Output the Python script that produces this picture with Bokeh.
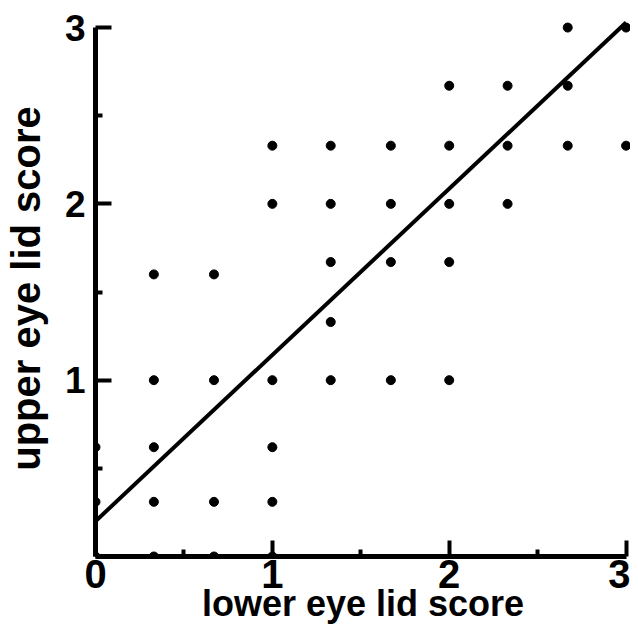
from bokeh.plotting import figure
from bokeh.models import Range1d, FixedTicker
from bokeh.embed import file_html
from bokeh.resources import INLINE

# data
lower = [2.67, 3.0,
         2.0, 2.33, 2.67,
         1.0, 1.33, 1.67, 2.0, 2.33, 2.67, 3.0,
         1.0, 1.33, 1.67, 2.0, 2.33,
         1.33, 1.67, 2.0,
         0.33, 0.67,
         1.33,
         0.33, 0.67, 1.0, 1.33, 1.67, 2.0,
         0.0, 0.33, 1.0,
         0.0, 0.33, 0.67, 1.0,
         0.0, 0.33, 0.67, 1.0]
upper = [3.0, 3.0,
         2.67, 2.67, 2.67,
         2.33, 2.33, 2.33, 2.33, 2.33, 2.33, 2.33,
         2.0, 2.0, 2.0, 2.0, 2.0,
         1.67, 1.67, 1.67,
         1.6, 1.6,
         1.33,
         1.0, 1.0, 1.0, 1.0, 1.0, 1.0,
         0.62, 0.62, 0.62,
         0.31, 0.31, 0.31, 0.31,
         0.0, 0.0, 0.0, 0.0]

fit_intercept = 0.2
fit_slope = 0.943
fit_x = [0.0, 3.0]
fit_y = [fit_intercept + fit_slope * v for v in fit_x]

major_ticks = [0, 1, 2, 3]
minor_ticks = [0.5, 1.5, 2.5]
x_tick_labels = {0: "0", 1: "1", 2: "2", 3: "3"}
y_tick_labels = {0: "", 1: "1", 2: "2", 3: "3"}
x_title = "lower eye lid score"
y_title = "upper eye lid score"

p = figure(width=630, height=626, output_backend="svg", toolbar_location=None,
           x_range=Range1d(0, 3.025), y_range=Range1d(0, 3.04),
           min_border_left=87, min_border_right=0, min_border_top=20, min_border_bottom=0)
p.grid.visible = False
p.outline_line_color = None
p.background_fill_color = "white"

p.line(fit_x, fit_y, line_color="black", line_width=4)
p.scatter(lower, upper, size=9, color="black")

FONT = "Liberation Sans"
for ax, labels, size in ((p.xaxis[0], x_tick_labels, "40px"), (p.yaxis[0], y_tick_labels, "37px")):
    ax.ticker = FixedTicker(ticks=major_ticks, minor_ticks=minor_ticks)
    ax.major_label_overrides = labels
    ax.bounds = (0, 3)
    ax.axis_line_width = 5
    ax.axis_line_color = "black"
    ax.major_tick_in = 16
    ax.major_tick_out = 0
    ax.minor_tick_in = 7
    ax.minor_tick_out = 0
    ax.major_tick_line_width = 4
    ax.minor_tick_line_width = 4
    ax.major_label_text_font = FONT
    ax.major_label_text_font_style = "bold"
    ax.major_label_text_font_size = size
    ax.major_label_text_color = "black"
    ax.axis_label_text_font = FONT
    ax.axis_label_text_font_style = "bold"
    ax.axis_label_text_color = "black"

p.xaxis.axis_label = x_title
p.xaxis.axis_label_text_font_size = "36px"
p.xaxis.major_label_standoff = 3
p.xaxis.axis_label_standoff = -8
p.yaxis.axis_label = y_title
p.yaxis.axis_label_text_font_size = "40px"
p.yaxis.major_label_standoff = 10
p.yaxis.axis_label_standoff = 14

open("out.html", "w").write(file_html(p, INLINE))
